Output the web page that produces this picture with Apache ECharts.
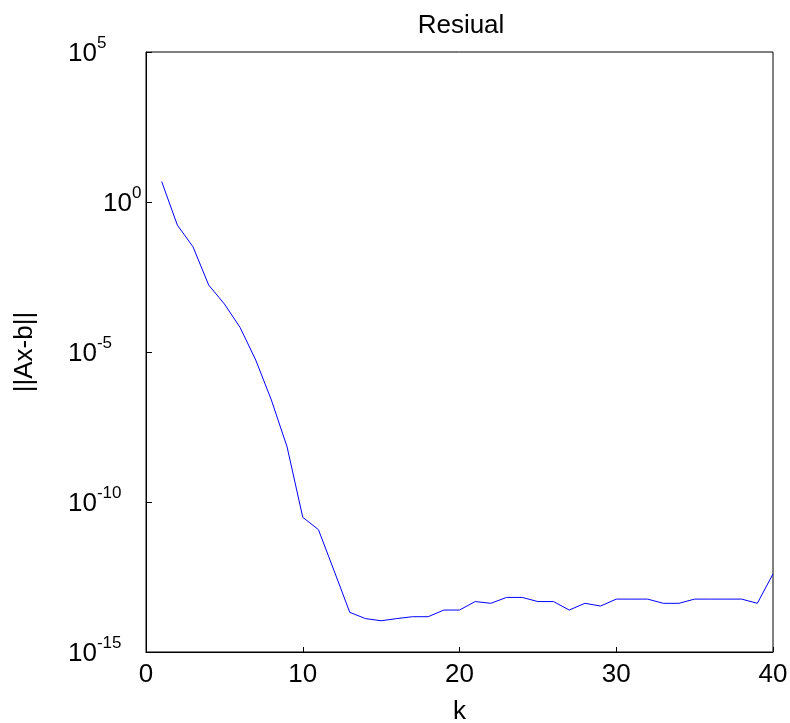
<!DOCTYPE html>
<html>
<head>
<meta charset="utf-8">
<script src="https://cdn.jsdelivr.net/npm/echarts@6/dist/echarts.min.js"></script>
<style>html,body{margin:0;padding:0;background:#fff;}#c{width:790px;height:723px;}</style>
</head>
<body>
<div id="c"></div>
<script>
const titleText = 'Resiual';
const xName = 'k';
const yName = '||Ax-b||';
const kValues = [1,2,3,4,5,6,7,8,9,10,11,12,13,14,15,16,17,18,19,20,21,22,23,24,25,26,27,28,29,30,31,32,33,34,35,36,37,38,39,40];
const residual = [4.8, 0.17, 0.032, 1.7e-3, 4.0e-4, 6.6e-5, 5.4e-6, 2.5e-7, 6.9e-9, 3.1e-11,
  1.2e-11, 5.1e-13, 2.1e-14, 1.3e-14, 1.1e-14, 1.3e-14, 1.5e-14, 1.5e-14, 2.5e-14, 2.5e-14,
  4.8e-14, 4.2e-14, 6.6e-14, 6.6e-14, 4.8e-14, 4.8e-14, 2.5e-14, 4.2e-14, 3.4e-14, 5.8e-14,
  5.8e-14, 5.8e-14, 4.2e-14, 4.2e-14, 5.8e-14, 5.8e-14, 5.8e-14, 5.8e-14, 4.2e-14, 4.0e-13];
const xTicks = [0, 10, 20, 30, 40];
const yMin = 1e-15, yMax = 1e5;

const font = 'Liberation Sans, Arial, sans-serif';
const chart = echarts.init(document.getElementById('c'));
chart.setOption({
  animation: false,
  title: {
    text: titleText, left: 456, top: 8, textAlign: 'center',
    textStyle: {fontFamily: font, fontSize: 26, fontWeight: 'normal', color: '#000'}
  },
  grid: {left: 146, top: 52, right: 17, bottom: 71, outerBoundsMode: 'none', containLabel: false,
    show: true, borderColor: '#000', borderWidth: 1, backgroundColor: '#fff'},
  xAxis: {
    type: 'value', min: xTicks[0], max: xTicks[xTicks.length - 1], interval: 10,
    name: xName, nameLocation: 'middle', nameGap: 47,
    nameTextStyle: {fontFamily: font, fontSize: 26, color: '#000'},
    axisLine: {lineStyle: {color: '#000', width: 1}},
    axisTick: {show: true, inside: true, length: 5, lineStyle: {color: '#000', width: 1}},
    axisLabel: {fontFamily: font, fontSize: 26, color: '#000', margin: 10},
    splitLine: {show: false}
  },
  yAxis: {
    type: 'log', logBase: 100000, min: yMin, max: yMax,
    name: yName, nameLocation: 'middle', nameGap: 108,
    nameTextStyle: {fontFamily: font, fontSize: 26, color: '#000'},
    axisLine: {lineStyle: {color: '#000', width: 1}},
    axisTick: {show: true, inside: true, length: 6, lineStyle: {color: '#000', width: 1}},
    axisLabel: {
      margin: 78, align: 'left',
      formatter: function (v) {
        const e = Math.round(Math.log10(v));
        return e === 0 ? '{c|10}{s|' + e + '}' : '{b|10}{s|' + e + '}';
      },
      rich: {
        b: {fontFamily: font, fontSize: 26, color: '#000', verticalAlign: 'bottom', padding: [0, 0, 3, 0]},
        c: {fontFamily: font, fontSize: 26, color: '#000', verticalAlign: 'bottom', padding: [0, 0, 3, 35]},
        s: {fontFamily: font, fontSize: 17, color: '#000', verticalAlign: 'bottom', padding: [0, 0, 18, 0]}
      }
    },
    splitLine: {show: false}
  },
  series: [{
    type: 'line', data: kValues.map((k, i) => [k, residual[i]]),
    showSymbol: false, lineStyle: {color: '#0000ff', width: 1}, itemStyle: {color: '#0000ff'}
  }]
});
</script>
</body>
</html>
